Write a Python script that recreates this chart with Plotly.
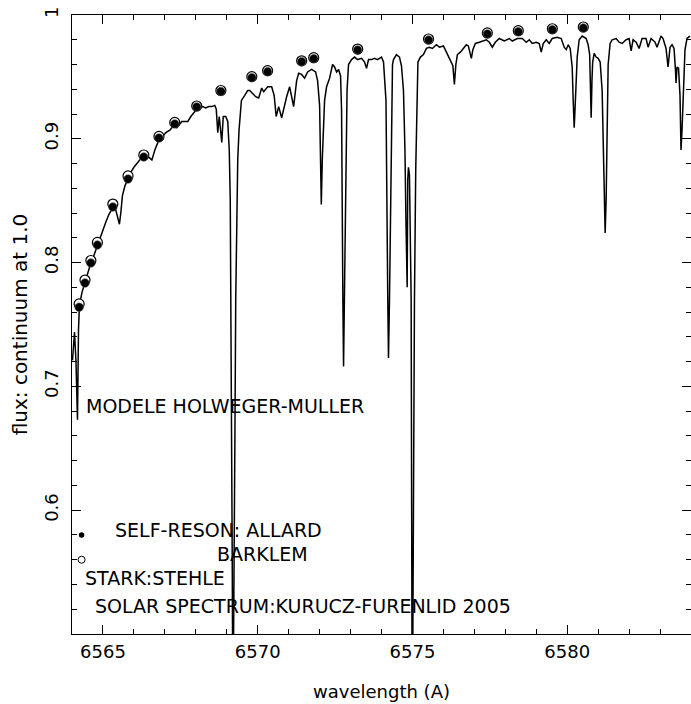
import plotly.graph_objects as go

# ---- solar spectrum (Kurucz-Furenlid 2005), wavelength in A, flux normalised to continuum ----
wave = [
    6564.016, 6564.081, 6564.129, 6564.177, 6564.210, 6564.242, 6564.323, 6564.419, 6564.516, 6564.613,
    6564.710, 6564.806, 6564.903, 6565.000, 6565.097, 6565.194, 6565.290, 6565.355, 6565.419, 6565.484,
    6565.532, 6565.581, 6565.629, 6565.710, 6565.806, 6565.903, 6566.000, 6566.097, 6566.226, 6566.323,
    6566.419, 6566.484, 6566.581, 6566.677, 6566.806, 6566.903, 6567.032, 6567.161, 6567.258, 6567.323,
    6567.387, 6567.452, 6567.548, 6567.645, 6567.742, 6567.839, 6567.935, 6568.032, 6568.129, 6568.226,
    6568.323, 6568.419, 6568.516, 6568.613, 6568.661, 6568.710, 6568.758, 6568.839, 6568.887, 6568.968,
    6569.032, 6569.081, 6569.113, 6569.135, 6569.152, 6569.177, 6569.200, 6569.226, 6569.265, 6569.290,
    6569.323, 6569.355, 6569.397, 6569.474, 6569.581, 6569.677, 6569.742, 6569.839, 6569.935, 6570.032,
    6570.129, 6570.194, 6570.323, 6570.452, 6570.532, 6570.597, 6570.677, 6570.774, 6570.871, 6570.935,
    6571.032, 6571.097, 6571.161, 6571.258, 6571.323, 6571.419, 6571.516, 6571.613, 6571.742, 6571.871,
    6571.935, 6572.000, 6572.032, 6572.055, 6572.087, 6572.129, 6572.161, 6572.226, 6572.323, 6572.419,
    6572.484, 6572.548, 6572.613, 6572.677, 6572.710, 6572.752, 6572.774, 6572.806, 6572.855, 6572.887,
    6572.935, 6573.032, 6573.129, 6573.226, 6573.355, 6573.452, 6573.516, 6573.581, 6573.677, 6573.774,
    6573.871, 6574.000, 6574.065, 6574.145, 6574.203, 6574.226, 6574.258, 6574.306, 6574.355, 6574.387,
    6574.484, 6574.581, 6574.645, 6574.710, 6574.758, 6574.790, 6574.829, 6574.848, 6574.871, 6574.903,
    6574.935, 6574.958, 6574.994, 6575.032, 6575.065, 6575.106, 6575.139, 6575.177, 6575.258, 6575.355,
    6575.452, 6575.548, 6575.645, 6575.774, 6575.871, 6576.000, 6576.097, 6576.194, 6576.258, 6576.306,
    6576.355, 6576.403, 6576.452, 6576.548, 6576.645, 6576.742, 6576.806, 6576.871, 6576.903, 6576.952,
    6577.032, 6577.161, 6577.290, 6577.387, 6577.484, 6577.581, 6577.677, 6577.806, 6577.968, 6578.129,
    6578.226, 6578.387, 6578.548, 6578.677, 6578.774, 6578.871, 6579.000, 6579.097, 6579.161, 6579.226,
    6579.323, 6579.419, 6579.516, 6579.677, 6579.806, 6579.903, 6579.968, 6580.032, 6580.097, 6580.161,
    6580.194, 6580.226, 6580.258, 6580.290, 6580.323, 6580.387, 6580.484, 6580.613, 6580.677, 6580.726,
    6580.758, 6580.774, 6580.800, 6580.823, 6580.871, 6580.935, 6581.000, 6581.065, 6581.129, 6581.161,
    6581.194, 6581.226, 6581.258, 6581.290, 6581.323, 6581.387, 6581.452, 6581.581, 6581.677, 6581.774,
    6581.903, 6582.000, 6582.065, 6582.129, 6582.226, 6582.323, 6582.419, 6582.548, 6582.613, 6582.710,
    6582.839, 6582.903, 6583.032, 6583.097, 6583.194, 6583.258, 6583.323, 6583.387, 6583.452, 6583.500,
    6583.516, 6583.548, 6583.597, 6583.645, 6583.677, 6583.710, 6583.742, 6583.806, 6583.871, 6583.935,
    6583.968,
]
flux = [
    0.721, 0.744, 0.720, 0.673, 0.746, 0.766, 0.776, 0.784, 0.792, 0.800,
    0.806, 0.813, 0.820, 0.826, 0.833, 0.839, 0.844, 0.846, 0.842, 0.834,
    0.831, 0.841, 0.854, 0.862, 0.868, 0.873, 0.877, 0.880, 0.884, 0.885,
    0.887, 0.885, 0.883, 0.891, 0.899, 0.901, 0.905, 0.907, 0.910, 0.910,
    0.909, 0.911, 0.914, 0.914, 0.914, 0.918, 0.921, 0.924, 0.925, 0.926,
    0.925, 0.926, 0.926, 0.927, 0.924, 0.905, 0.918, 0.897, 0.918, 0.918,
    0.914, 0.891, 0.851, 0.770, 0.665, 0.560, 0.420, 0.560, 0.665, 0.770,
    0.851, 0.883, 0.907, 0.931, 0.935, 0.939, 0.939, 0.936, 0.934, 0.933,
    0.941, 0.938, 0.942, 0.942, 0.935, 0.918, 0.926, 0.917, 0.929, 0.934,
    0.942, 0.933, 0.926, 0.947, 0.953, 0.952, 0.949, 0.954, 0.956, 0.954,
    0.947, 0.927, 0.883, 0.847, 0.883, 0.923, 0.931, 0.942, 0.949, 0.960,
    0.958, 0.954, 0.956, 0.951, 0.923, 0.770, 0.716, 0.780, 0.891, 0.939,
    0.960, 0.964, 0.966, 0.964, 0.965, 0.962, 0.957, 0.964, 0.964, 0.965,
    0.964, 0.966, 0.962, 0.931, 0.770, 0.723, 0.770, 0.891, 0.960, 0.964,
    0.968, 0.966, 0.959, 0.939, 0.891, 0.834, 0.780, 0.867, 0.877, 0.871,
    0.810, 0.770, 0.400, 0.673, 0.770, 0.875, 0.931, 0.962, 0.966, 0.968,
    0.973, 0.974, 0.973, 0.976, 0.974, 0.975, 0.970, 0.965, 0.962, 0.959,
    0.944, 0.960, 0.968, 0.970, 0.973, 0.976, 0.975, 0.968, 0.965, 0.972,
    0.977, 0.978, 0.979, 0.980, 0.978, 0.974, 0.978, 0.981, 0.979, 0.981,
    0.979, 0.981, 0.981, 0.978, 0.980, 0.977, 0.978, 0.977, 0.970, 0.977,
    0.980, 0.977, 0.981, 0.982, 0.981, 0.974, 0.972, 0.976, 0.973, 0.958,
    0.931, 0.909, 0.927, 0.947, 0.966, 0.980, 0.983, 0.981, 0.976, 0.968,
    0.939, 0.917, 0.947, 0.962, 0.969, 0.966, 0.965, 0.962, 0.939, 0.891,
    0.842, 0.824, 0.851, 0.915, 0.960, 0.977, 0.980, 0.981, 0.978, 0.977,
    0.980, 0.981, 0.971, 0.980, 0.978, 0.973, 0.981, 0.981, 0.974, 0.981,
    0.978, 0.974, 0.983, 0.981, 0.973, 0.958, 0.974, 0.976, 0.973, 0.955,
    0.945, 0.958, 0.957, 0.935, 0.891, 0.907, 0.931, 0.972, 0.981, 0.982,
    0.983,
]

# ---- Holweger-Muller model continuum-window points ----
model_wave = [6564.23, 6564.42, 6564.61, 6564.82, 6565.32, 6565.81, 6566.32, 6566.81, 6567.32, 6568.03,
              6568.81, 6569.81, 6570.32, 6571.42, 6571.81, 6573.23, 6575.52, 6577.42, 6578.42, 6579.52,
              6580.52]
self_reson = [0.7640, 0.7835, 0.7997, 0.8142, 0.8449, 0.8675, 0.8853, 0.9006, 0.9120, 0.9257,
              0.9382, 0.9494, 0.9542, 0.9623, 0.9647, 0.9717, 0.9798, 0.9847, 0.9865, 0.9881,
              0.9895]
stark = [0.7666, 0.7859, 0.8017, 0.8163, 0.8473, 0.8700, 0.8869, 0.9019, 0.9132, 0.9265,
         0.9390, 0.9502, 0.9550, 0.9630, 0.9655, 0.9725, 0.9806, 0.9855, 0.9873, 0.9889,
         0.9903]

# ---- legend keys (drawn inside the frame) ----
key_wave = [6564.31]
key_self = [0.580]
key_stark = [0.560]

x_ticks = [6565, 6570, 6575, 6580]
y_ticks = [0.6, 0.7, 0.8, 0.9, 1.0]
y_ticktext = ["0.6", "0.7", "0.8", "0.9", "1"]

FONT = "DejaVu Sans"

fig = go.Figure()
fig.add_trace(go.Scatter(x=wave, y=flux, mode="lines",
                         line=dict(color="black", width=1.5), name="solar spectrum"))
fig.add_trace(go.Scatter(x=model_wave, y=stark, mode="markers", name="Stark: Stehle",
                         marker=dict(symbol="circle", size=10, color="white",
                                     line=dict(color="black", width=1.2))))
fig.add_trace(go.Scatter(x=model_wave, y=self_reson, mode="markers", name="self-reson",
                         marker=dict(symbol="circle", size=8.5, color="black",
                                     line=dict(color="#555", width=0.6))))
fig.add_trace(go.Scatter(x=key_wave, y=key_self, mode="markers",
                         marker=dict(symbol="circle", size=5.5, color="black")))
fig.add_trace(go.Scatter(x=key_wave, y=key_stark, mode="markers",
                         marker=dict(symbol="circle-open", size=7, color="black", line=dict(width=1))))

labels = [
    ("MODELE HOLWEGER-MULLER", 6564.39, 0.684),
    ("SELF-RESON: ALLARD", 6565.32, 0.584),
    ("BARKLEM", 6568.61, 0.565),
    ("STARK:STEHLE", 6564.35, 0.545),
    ("SOLAR SPECTRUM:KURUCZ-FURENLID 2005", 6564.68, 0.523),
]
for txt, lx, ly in labels:
    fig.add_annotation(x=lx, y=ly, text=txt, showarrow=False, xanchor="left", yanchor="middle",
                       font=dict(family=FONT, size=19, color="black"))

axis_common = dict(showline=True, linecolor="black", linewidth=1, mirror="ticks",
                   ticks="inside", tickcolor="black", tickwidth=1, ticklen=9,
                   showgrid=False, zeroline=False,
                   tickfont=dict(family=FONT, size=18, color="black"))

fig.update_xaxes(range=[6564, 6584], tickvals=x_ticks, ticklabelstandoff=1,
                 minor=dict(dtick=1, tick0=6564, ticks="inside", ticklen=5, tickcolor="black",
                            tickwidth=1, showgrid=False),
                 title=dict(text="wavelength (A)", font=dict(family=FONT, size=18, color="black"),
                            standoff=24),
                 **axis_common)
fig.update_yaxes(range=[0.5, 1.0], tickvals=y_ticks, ticktext=y_ticktext, tickangle=-90,
                 ticklabelstandoff=6,
                 minor=dict(dtick=0.02, tick0=0.5, ticks="inside", ticklen=5, tickcolor="black",
                            tickwidth=1, showgrid=False),
                 title=dict(text="flux: continuum at 1.0", font=dict(family=FONT, size=20, color="black"),
                            standoff=7),
                 **axis_common)

fig.update_layout(width=691, height=704, margin=dict(l=72, r=0, t=15, b=70, autoexpand=False),
                  paper_bgcolor="white", plot_bgcolor="white", showlegend=False,
                  font=dict(family=FONT, color="black"))

fig.write_html("out.html")
